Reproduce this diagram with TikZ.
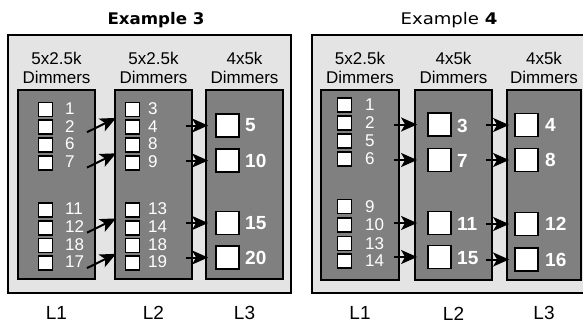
\documentclass[tikz,border=0pt]{standalone}
\usepackage{fontspec}
\setmainfont{Liberation Sans}
\newfontfamily\titlefont{DejaVu Sans}
\usetikzlibrary{arrows.meta,calc}
\definecolor{panelgray}{RGB}{228,228,228}
\definecolor{colgray}{RGB}{128,128,128}
\tikzset{
  panel/.style={draw=black,line width=2pt,fill=panelgray,inner sep=0},
  column/.style={draw=black,line width=1.8pt,fill=colgray,inner sep=0},
  chan/.style={draw=black,line width=1.8pt,fill=white,inner sep=0,minimum size=14pt},
  bigchan/.style={draw=black,line width=1.8pt,fill=white,inner sep=0,minimum size=23pt},
  num/.style={text=white,anchor=west,inner sep=0,font=\fontsize{17}{17}\selectfont},
  bignum/.style={text=white,anchor=west,inner sep=0,font=\fontsize{19}{19}\selectfont\bfseries},
  header/.style={align=center,inner sep=0,font=\fontsize{17}{19}\selectfont},
  layer/.style={inner sep=0,font=\fontsize{19}{19}\selectfont},
  title/.style={anchor=base,inner sep=0,font=\titlefont\fontsize{16}{16}\selectfont},
  feed/.style={draw=black,line width=2pt,-{Stealth[length=16pt,width=14pt,inset=4pt]}},
}
\begin{document}
\begin{tikzpicture}[x=1pt,y=-1pt]
\useasboundingbox (0,0) rectangle (583,324);
\fill[white] (0,0) rectangle (583,324);

% ---------------- Example 3 ----------------
\node[title] (tA) at (156,24) {\scalebox{1.04}[1]{\bfseries Example 3}};
\node[panel,minimum width=283pt,minimum height=258pt] (exA) at (149.5,164) {};
\node[column,minimum width=77pt,minimum height=189pt] (A1) at (56.5,184.5) {};
\node[column,minimum width=77pt,minimum height=189pt] (A2) at (153.5,184.5) {};
\node[column,minimum width=77pt,minimum height=189pt] (A3) at (244.5,184.5) {};

\node[header] (A1h) at ($(A1.north)+(0,-21)$) {5x2.5k\\Dimmers};
\node[header] (A2h) at ($(A2.north)+(0,-21)$) {5x2.5k\\Dimmers};
\node[header] (A3h) at ($(A3.north)+(0,-21)$) {4x5k\\Dimmers};

\foreach \y/\t [count=\i] in {109.5/1,127.2/2,144.9/6,162.6/7,210/11,227.7/12,245.4/18,263.1/17} {
  \node[chan] (A1s\i) at (45.5,\y) {};
  \node[num] (A1n\i) at (65,\y-1) {\t};
}
\foreach \y/\t [count=\i] in {109.5/3,127.2/4,144.9/8,162.6/9,210/13,227.7/14,245.4/18,263.1/19} {
  \node[chan] (A2s\i) at (132.5,\y) {};
  \node[num] (A2n\i) at (148,\y-1) {\t};
}
\foreach \y/\t [count=\i] in {125.5/5,160.5/10,223/15,257.5/20} {
  \node[bigchan] (A3s\i) at (227.5,\y) {};
  \node[bignum] (A3n\i) at (245,\y) {\t};
}

% feeds from layer 1 into layer 2
\foreach \a/\b in {2/1,4/3,6/5,8/7} {
  \draw[feed] ($(A1n\a.west)+(22,6)$) -- ($(A2.west |- A2s\b.south)+(2,0.5)$);
}
% feeds from layer 2 into layer 3
\foreach \i in {1,...,4} {
  \draw[feed] ($(A3s\i.west -| A2.east)+(-7,0)$) -- ($(A3s\i.west -| A3.west)+(3,0)$);
}

\node[layer] (A1l) at ($(A1.south)+(0,33)$) {L1};
\node[layer] (A2l) at ($(A2.south)+(0,33)$) {L2};
\node[layer] (A3l) at ($(A3.south)+(0,33)$) {L3};

% ---------------- Example 4 ----------------
\node[title] (tB) at (449,24) {\scalebox{1.13}[1]{Example \textbf{4}}};
\node[panel,minimum width=274pt,minimum height=258pt] (exB) at (449,164) {};
\node[column,minimum width=78pt,minimum height=190pt] (B1) at (360,185) {};
\node[column,minimum width=77pt,minimum height=190pt] (B2) at (453.5,185) {};
\node[column,minimum width=74pt,minimum height=190pt] (B3) at (544,185) {};

\node[header] (B1h) at ($(B1.north)+(0,-21)$) {5x2.5k\\Dimmers};
\node[header] (B2h) at ($(B2.north)+(0,-21)$) {4x5k\\Dimmers};
\node[header] (B3h) at ($(B3.north)+(0,-21)$) {4x5k\\Dimmers};

\foreach \y/\t [count=\i] in {105/1,123/2,141/5,159/6,206.5/9,225/10,243.5/13,261/14} {
  \node[chan] (B1s\i) at (344.5,\y) {};
  \node[num] (B1n\i) at (365,\y) {\t};
}
\foreach \y/\t [count=\i] in {124.5/3,160/7,223/11,257/15} {
  \node[bigchan] (B2s\i) at (439.5,\y) {};
  \node[bignum] (B2n\i) at (457,\y+1) {\t};
}
\foreach \y/\t [count=\i] in {125/4,160/8,224/12,259.5/16} {
  \node[bigchan] (B3s\i) at (526.5,\y) {};
  \node[bignum] (B3n\i) at (545,\y) {\t};
}

% feeds between the layers
\foreach \i in {1,...,4} {
  \draw[feed] ($(B2s\i.west -| B1.east)+(-6,0)$) -- ($(B2s\i.west -| B2.west)+(3,0)$);
  \draw[feed] ($(B3s\i.west -| B2.east)+(-7,0)$) -- ($(B3s\i.west -| B3.west)+(3,0)$);
}

\node[layer] (B1l) at ($(B1.south)+(0,32.5)$) {L1};
\node[layer] (B2l) at ($(B2.south)+(0,32.5)$) {L2};
\node[layer] (B3l) at ($(B3.south)+(0,32.5)$) {L3};
\end{tikzpicture}
\end{document}
